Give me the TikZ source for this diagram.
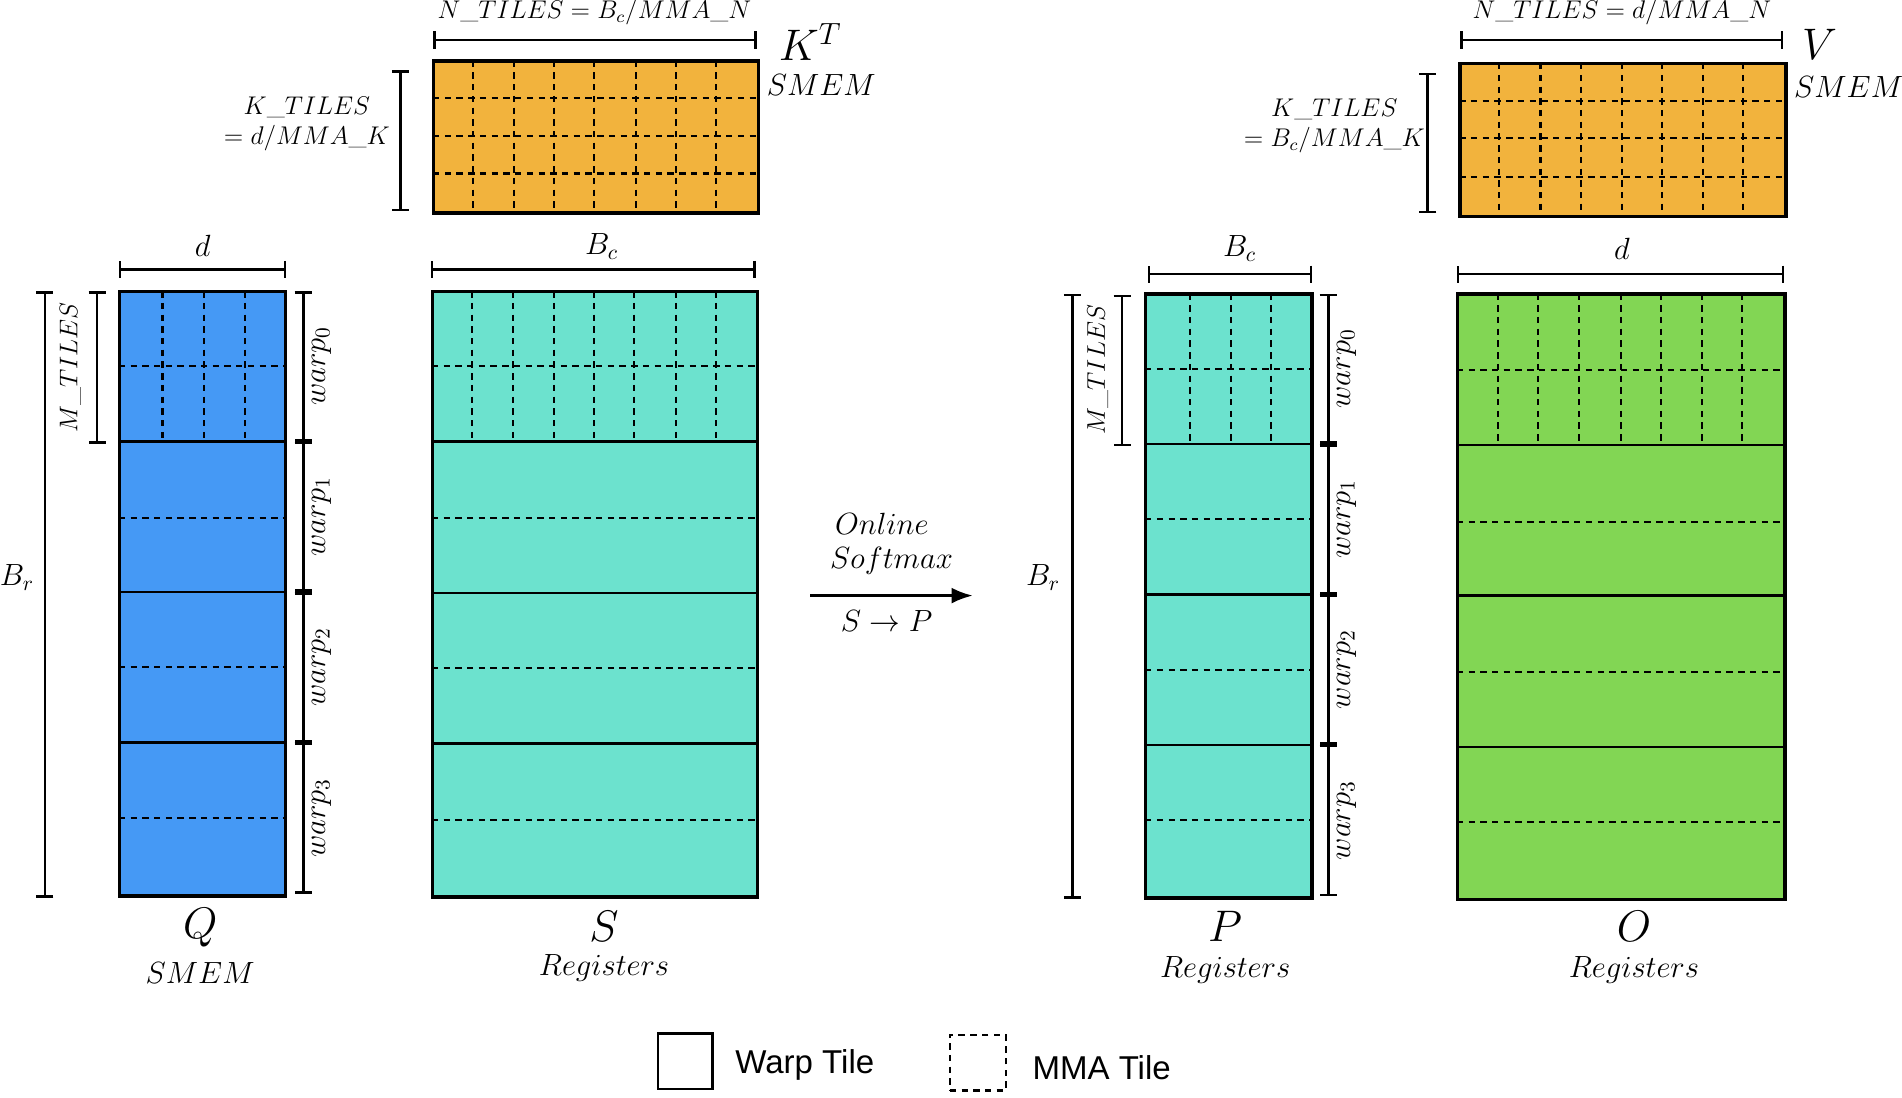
\documentclass[tikz,border=0pt]{standalone}
\usepackage{fontspec}
\newfontfamily\legfont{Liberation Sans}
\usetikzlibrary{arrows.meta}
\definecolor{qblue}{HTML}{4599F5}
\definecolor{steal}{HTML}{6CE2CE}
\definecolor{korange}{HTML}{F2B33D}
\definecolor{ogreen}{HTML}{82D654}
\tikzset{
  solidl/.style={line width=1.1pt},
  dashl/.style={line width=1.0pt,dash pattern=on 3pt off 2.5pt},
  brk/.style={line width=1.2pt,{Bar[width=8pt]}-{Bar[width=8pt]}},
  lab/.style={font=\fontsize{14}{16}\selectfont},
  small/.style={font=\fontsize{11.5}{14}\selectfont},
  big/.style={font=\fontsize{20}{22}\selectfont},
  mat/.style={draw,solidl,inner sep=0pt,anchor=north west},
}
\newcommand{\mymat}[6]{%
  \node[mat,fill=#6,minimum width={(#4-#2)*0.02cm},minimum height={(#5-#3)*0.02cm}] (#1) at (#2,#3) {};
}
\begin{document}
\begin{tikzpicture}[x=0.02cm,y=-0.02cm]
\useasboundingbox (0,0) rectangle (1568,905);
% ---------- Q
\mymat{Q}{98}{240}{234}{737}{qblue}
\foreach \y in {364,488,612} \draw[solidl] (98,\y)--(234,\y);
\foreach \y in {302,427,550,674} \draw[dashl] (98,\y)--(234,\y);
\foreach \x in {134,168,202} \draw[dashl] (\x,240)--(\x,364);
% ---------- S
\mymat{S}{356}{240}{623}{738}{steal}
\foreach \y in {364,489,613} \draw[solidl] (356,\y)--(623,\y);
\foreach \y in {302,427,551,676} \draw[dashl] (356,\y)--(623,\y);
\foreach \x in {389,423,457,490,523,557,590} \draw[dashl] (\x,240)--(\x,364);
% ---------- K
\mymat{K}{357}{50}{624}{174}{korange}
\foreach \y in {81,112,143} \draw[dashl] (357,\y)--(624,\y);
\foreach \x in {390,424,457,490,524,557,590} \draw[dashl] (\x,50)--(\x,174);
% ---------- P
\mymat{P}{944}{242}{1080}{739}{steal}
\foreach \y in {366,490,614} \draw[solidl] (944,\y)--(1080,\y);
\foreach \y in {304,428,552,676} \draw[dashl] (944,\y)--(1080,\y);
\foreach \x in {981,1015,1048} \draw[dashl] (\x,242)--(\x,366);
% ---------- O
\mymat{O}{1201}{242}{1470}{740}{ogreen}
\foreach \y in {367,491,616} \draw[solidl] (1201,\y)--(1470,\y);
\foreach \y in {305,430,554,678} \draw[dashl] (1201,\y)--(1470,\y);
\foreach \x in {1235,1268,1302,1336,1369,1403,1436} \draw[dashl] (\x,242)--(\x,367);
% ---------- V
\mymat{V}{1203}{52}{1471}{177}{korange}
\foreach \y in {83,114,146} \draw[dashl] (1203,\y)--(1471,\y);
\foreach \x in {1236,1270,1303,1337,1370,1404,1437} \draw[dashl] (\x,52)--(\x,177);
\foreach \n in {Q,S,K,P,O,V} \draw[solidl] (\n.north west) rectangle (\n.south east);
% ---------- brackets
\draw[brk] (98,222)--(236,222); \node[lab] (ld1) at (167,203) {$d$};
\draw[brk] (355,222)--(623,222); \node[lab] (lbc1) at (496,203) {$B_c$};
\draw[brk] (946,226)--(1082,226); \node[lab] (lbc2) at (1022,205) {$B_c$};
\draw[brk] (1201,226)--(1471,226); \node[lab] (ld2) at (1337,205) {$d$};
\draw[brk] (357,33)--(624,33); \node[small] (ln1) at (490,10) {$N\_TILES = B_c/MMA\_N$};
\draw[brk] (1204,33)--(1470,33); \node[small] (ln2) at (1337,10) {$N\_TILES = d/MMA\_N$};
\draw[brk] (330,58)--(330,174);
\node[small,align=center] (lk1) at (253,102) {$K\_TILES$\\$= d/MMA\_K$};
\draw[brk] (1177,60)--(1177,176);
\node[small,align=center] (lk2) at (1100,104) {$K\_TILES$\\$= B_c/MMA\_K$};
\draw[brk] (37,240)--(37,740); \node[lab] (lbr1) at (14,476) {$B_r$};
\draw[brk] (884,242)--(884,741); \node[lab] (lbr2) at (860,476) {$B_r$};
\draw[brk] (80,240)--(80,366); \node[small,rotate=90] (lm1) at (58,303) {$M\_TILES$};
\draw[brk] (925,243)--(925,368); \node[small,rotate=90] (lm2) at (905,305) {$M\_TILES$};
\foreach \a/\b/\i in {240/364/0,364/488/1,488/612/2,612/737/3}{
  \draw[brk] (250,\a)--(250,\b);
  \node[lab,rotate=90] (wq\i) at (265,{(\a+\b)/2}) {$warp_{\i}$};}
\foreach \a/\b/\i in {242/366/0,366/490/1,490/614/2,614/739/3}{
  \draw[brk] (1095,\a)--(1095,\b);
  \node[lab,rotate=90] (wp\i) at (1110,{(\a+\b)/2}) {$warp_{\i}$};}
% ---------- arrow
\coordinate (a1) at (668,491); \coordinate (a2) at (802,491);
\draw[line width=1.4pt,-{Latex[length=10pt]}] (a1)--(a2);
\node[lab] (on) at (727,432) {$Online$};
\node[lab] (sm) at (735,462) {$Softmax$};
\node[lab] (sp) at (731,512) {$S\rightarrow P$};
% ---------- labels
\node[big] (tq) at (165,765) {$Q$}; \node[lab] (sq) at (165,802) {$SMEM$};
\node[big] (ts) at (498,764) {$S$}; \node[lab] (rs) at (498,798) {$Registers$};
\node[big] (tp) at (1010,764) {$P$}; \node[lab] (rp) at (1010,800) {$Registers$};
\node[big] (to) at (1347,764) {$O$}; \node[lab] (ro) at (1347,800) {$Registers$};
\node[big] (tk) at (668,35) {$K^T$}; \node[lab] (sk) at (677,70) {$SMEM$};
\node[big] (tv) at (1500,37) {$V$}; \node[lab] (sv) at (1524,72) {$SMEM$};
% ---------- legend
\node[draw,solidl,minimum width={45*0.02cm},minimum height={46*0.02cm}] (lw) at (565,875) {};
\node[anchor=west,font=\legfont\fontsize{15.5}{18}\selectfont] (lwt) at (600,878) {Warp Tile};
\node[draw,dashl,minimum width={46*0.02cm},minimum height={46*0.02cm}] (lmm) at (806,876) {};
\node[anchor=west,font=\legfont\fontsize{15.5}{18}\selectfont] (lmt) at (845,880) {MMA Tile};
\end{tikzpicture}
\end{document}
